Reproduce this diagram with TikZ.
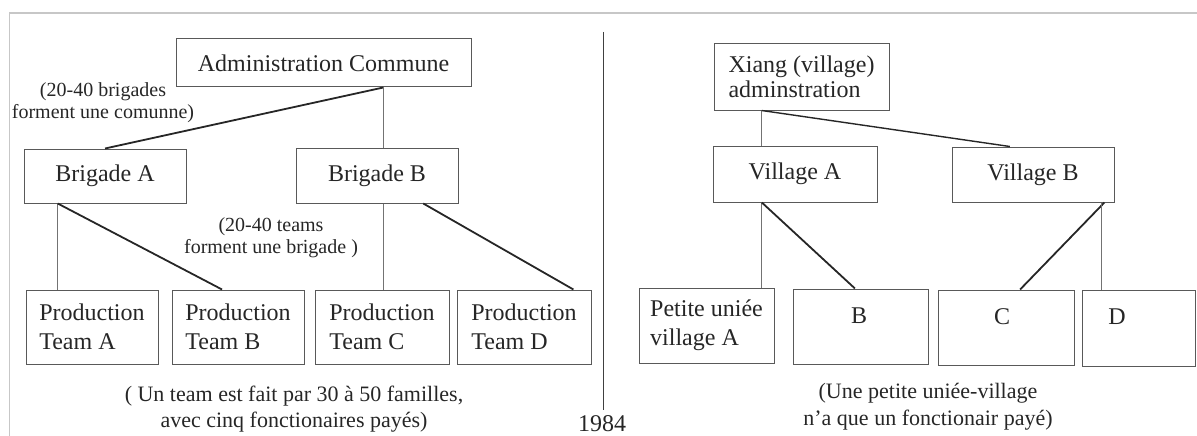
\documentclass[tikz,border=0pt]{standalone}
\usepackage{fontspec}
\setmainfont{Liberation Serif}
\usetikzlibrary{calc}
\begin{document}
\begin{tikzpicture}[x=1pt,y=-1pt,
  box/.style={draw=black!65, line width=1pt, inner sep=0pt, text=black!85,
    font=\fontsize{24}{29}\selectfont},
  thinline/.style={draw=black!55, line width=1pt},
  thickline/.style={draw=black!85, line width=1.8pt},
  note/.style={inner sep=0pt, text=black!85, align=center},
  smallnote/.style={note, font=\fontsize{20}{22}\selectfont},
  bignote/.style={note, font=\fontsize{22}{26}\selectfont},
  boxtext/.style={inner sep=0pt, text=black!85, font=\fontsize{24}{29}\selectfont}]
\useasboundingbox (0,0) rectangle (1197,436);
% frame and divider
\draw[black!22, line width=1.5pt] (9.5,436) -- (9.5,13) -- (1197,13);
\coordinate (divtop) at (603,32);
\coordinate (divbot) at (603,410);
\draw[black!75, line width=1pt] (divtop) -- (divbot);

% left tree
\node[box, minimum width=295, minimum height=48] (admin) at (323.5,63) {Administration Commune};
\node[box, minimum width=162, minimum height=54] (brigA) at (105,176) {Brigade A};
\node[box, minimum width=162, minimum height=55] (brigB) at (377,175.5) {Brigade B};
\node[box, minimum width=132, minimum height=74, align=left] (teamA) at (92,327) {Production\\Team A};
\node[box, minimum width=132, minimum height=74, align=left] (teamB) at (238,327) {Production\\Team B};
\node[box, minimum width=134, minimum height=74, align=left] (teamC) at (382,327) {Production\\Team C};
\node[box, minimum width=134, minimum height=74, align=left] (teamD) at (524,327) {Production\\Team D};

\coordinate (adminS) at ($(admin.south west)!0.702!(admin.south east)$);
\coordinate (brigAS) at ($(brigA.south west)!0.21!(brigA.south east)$);
\coordinate (brigBS) at ($(brigB.south west)!0.784!(brigB.south east)$);
\coordinate (teamBN) at ($(teamB.north west)!0.38!(teamB.north east)$);
\coordinate (teamDN) at ($(teamD.north west)!0.866!(teamD.north east)$);

\draw[thickline] (adminS) -- (brigA.north);
\draw[thinline] (adminS) -- (adminS |- brigB.north);
\draw[thinline] (brigAS) -- (brigAS |- teamA.north);
\draw[thickline] (brigAS) -- (teamBN);
\draw[thinline] (adminS |- brigB.south) -- (adminS |- teamC.north);
\draw[thickline] (brigBS) -- (teamDN);

\node[smallnote] (lab1) at (103,103) {(20-40 brigades\\forment une comunne)};
\node[smallnote] (lab2) at (271,237.5) {(20-40 teams\\forment une brigade )};
\node[bignote] (lab3) at (294,409.5) {( Un team est fait par 30 à 50 familles,\\avec cinq fonctionaires payés)};
\node[boxtext, anchor=base west] (year) at (578,431) {1984};

% right tree
\node[box, minimum width=175, minimum height=66, align=left, font=\fontsize{24}{25}\selectfont] (xiang) at (801.5,77) {Xiang (village)\\adminstration};
\node[box, minimum width=164, minimum height=56] (vilA) at (795,174) {Village A};
\node[box, minimum width=162, minimum height=55] (vilB) at (1033,174.5) {Village B};
\node[box, minimum width=135, minimum height=75, align=left] (petite) at (706.5,325.5) {Petite uniée\\village A};
\node[box, minimum width=135, minimum height=75] (uB) at (860.5,326.5) {};
\node[box, minimum width=136, minimum height=75] (uC) at (1006,327.5) {};
\node[box, minimum width=113, minimum height=76] (uD) at (1139,328) {};
\node[boxtext] (tB) at (859,316) {B};
\node[boxtext] (tC) at (1002,317) {C};
\node[boxtext] (tD) at (1117,317) {D};

\coordinate (xiangS) at ($(xiang.south west)!0.274!(xiang.south east)$);
\coordinate (vilBN) at ($(vilB.north west)!0.358!(vilB.north east)$);
\coordinate (vilAS) at ($(vilA.south west)!0.299!(vilA.south east)$);
\coordinate (uBN) at ($(uB.north west)!0.459!(uB.north east)$);
\coordinate (vilBS) at ($(vilB.south west)!0.938!(vilB.south east)$);
\coordinate (vilBS2) at ($(vilB.south west)!0.92!(vilB.south east)$);
\coordinate (uCN) at ($(uC.north west)!0.603!(uC.north east)$);

\draw[thinline] (xiangS) -- (xiangS |- vilA.north);
\draw[thickline, line width=1.4pt] (xiangS) -- (vilBN);
\draw[thinline] (vilAS) -- (vilAS |- petite.north);
\draw[thickline] (vilAS) -- (uBN);
\draw[thickline] (vilBS) -- (uCN);
\draw[thinline] (vilBS2) -- (vilBS2 |- uD.north);

\node[bignote, font=\fontsize{22}{27}\selectfont] (lab4) at (928,406.5) {(Une petite uniée-village\\n'a que un fonctionair payé)};
\end{tikzpicture}
\end{document}
